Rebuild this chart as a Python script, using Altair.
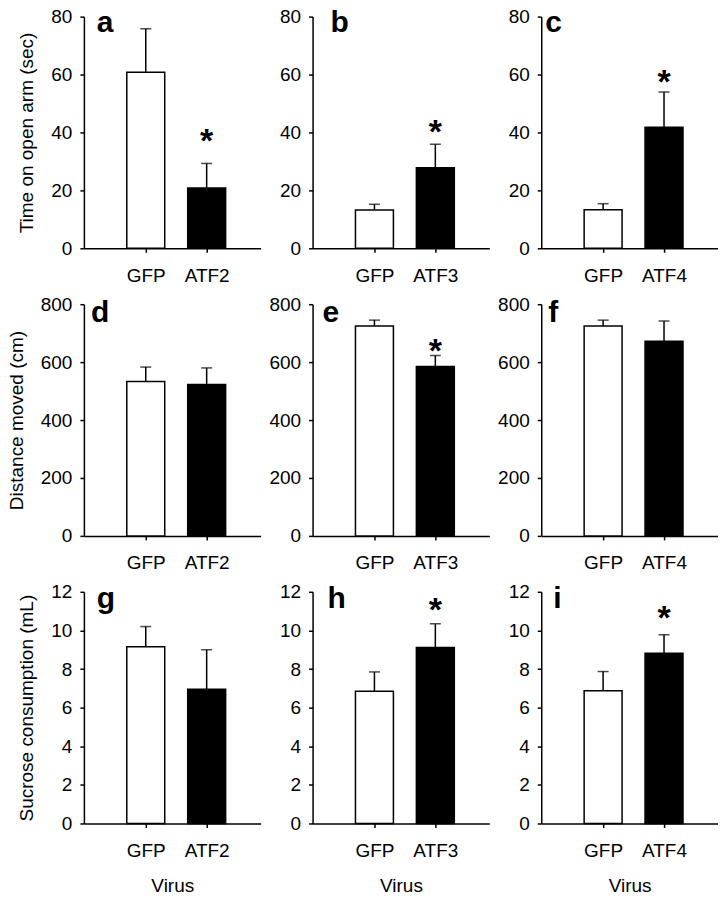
import altair as alt
import pandas as pd

# ---- data ----
control = "GFP"
treatments = ["ATF2", "ATF3", "ATF4"]
panel_letters = [["a", "b", "c"], ["d", "e", "f"], ["g", "h", "i"]]
y_titles = ["Time on open arm (sec)", "Distance moved (cm)", "Sucrose consumption (mL)"]
y_max = [80, 800, 12]
y_ticks = [[0, 20, 40, 60, 80], [0, 200, 400, 600, 800], [0, 2, 4, 6, 8, 10, 12]]

# means: rows = measure, cols = ATF2/ATF3/ATF4 experiment, pairs = [GFP, ATF]
time_mean = [[60.8, 20.8], [13.2, 27.8], [13.3, 41.8]]
time_sem = [[15.0, 8.5], [2.0, 8.1], [2.1, 12.2]]
distance_mean = [[533, 523], [725, 585], [725, 672]]
distance_sem = [[50, 57], [20, 38], [20, 70]]
sucrose_mean = [[9.15, 6.95], [6.85, 9.12], [6.87, 8.82]]
sucrose_sem = [[1.05, 2.05], [1.0, 1.22], [1.0, 0.95]]

# asterisk positions (value units) where the ATF group differs significantly
time_star = [38.6, 42.0, 59.0]
distance_star = [None, 655, None]
sucrose_star = [None, 11.3, 10.9]

means = [time_mean, distance_mean, sucrose_mean]
sems = [time_sem, distance_sem, sucrose_sem]
stars = [time_star, distance_star, sucrose_star]

# panel-letter offsets from the plot's top-left corner (px)
letter_dx = [[13, 18, 4], [7, 10, 7], [13, 15, 12]]
letter_y = [15, 18, 16]

FONT = "Liberation Sans"
W, H = 177, 232


def panel(r, c):
    cats = [control, treatments[c]]
    m = means[r][c]
    e = sems[r][c]
    df = pd.DataFrame({
        "virus": cats,
        "mean": m,
        "top": [m[0] + e[0], m[1] + e[1]],
        "fill": ["white", "black"],
    })
    base = alt.Chart(df)
    xscale = alt.Scale(type="point", padding=0.951, align=0.534, domain=cats)
    xaxis = alt.Axis(
        title="Virus" if r == 2 else None,
        labelAngle=0, labelPadding=14, tickSize=4, titlePadding=16,
    )
    yscale = alt.Scale(domain=[0, y_max[r]], nice=False, zero=True)
    yaxis = alt.Axis(
        values=y_ticks[r], title=y_titles[r] if c == 0 else None,
        labelPadding=8, tickSize=4, titlePadding=14, grid=False,
        labelOverlap=False,
    )

    def X():
        return alt.X("virus:N", sort=cats, scale=xscale, axis=xaxis)

    bars = base.mark_bar(size=38, stroke="black", strokeWidth=1.5).encode(
        x=X(),
        y=alt.Y("mean:Q", scale=yscale, axis=yaxis),
        fill=alt.Fill("fill:N", scale=None),
    )
    rule = base.mark_rule(color="black", strokeWidth=1.5).encode(
        x=X(), y=alt.Y("mean:Q", scale=yscale, axis=yaxis), y2="top:Q"
    )
    cap = base.mark_tick(color="black", size=11, thickness=1.5).encode(
        x=X(), y=alt.Y("top:Q", scale=yscale, axis=yaxis)
    )
    layers = [bars, rule, cap]
    letter = alt.Chart(pd.DataFrame({"t": [panel_letters[r][c]]})).mark_text(
        font=FONT, fontSize=30, fontWeight="bold", align="left", baseline="alphabetic",
        color="black",
    ).encode(x=alt.value(letter_dx[r][c]), y=alt.value(letter_y[r]), text="t:N")
    layers.append(letter)
    s = stars[r][c]
    if s is not None:
        sdf = pd.DataFrame({"virus": [treatments[c]], "star": [s], "t": ["*"]})
        star = alt.Chart(sdf).mark_text(
            font=FONT, fontSize=34, fontWeight="bold", baseline="middle",
            align="center", color="black", dy=6,
        ).encode(x=X(), y=alt.Y("star:Q", scale=yscale, axis=yaxis), text="t:N")
        layers.append(star)
    return alt.layer(*layers).properties(width=W, height=H)


panels = [panel(r, c) for r in range(3) for c in range(3)]

chart = alt.concat(
    *panels, columns=3, spacing={"row": 56, "column": 52}, bounds="flush"
).properties(
    padding={"left": -1, "top": -1, "right": 0, "bottom": 0},
    background="white",
).configure_view(stroke=None).configure_axis(
    domainColor="black", tickColor="black", labelColor="black", titleColor="black",
    labelFont=FONT, titleFont=FONT, labelFontSize=19, titleFontSize=19,
    titleFontWeight="normal", domainWidth=1.5, tickWidth=1.5, grid=False,
    labelOverlap=False,
)

chart.save("out.html", embed_options={"renderer": "svg", "actions": False})
